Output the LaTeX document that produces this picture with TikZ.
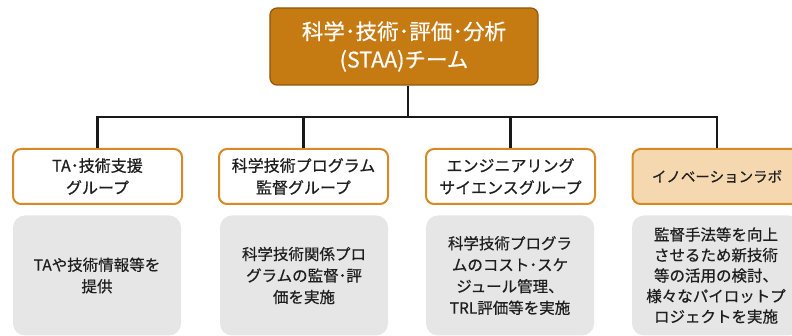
\documentclass[tikz,border=0pt]{standalone}
\usepackage{fontspec}
\newfontfamily\jp[FakeBold=0.6]{Noto Sans CJK JP}
\definecolor{topfill}{HTML}{C67A12}
\definecolor{topdraw}{HTML}{8E560C}
\definecolor{grpdraw}{HTML}{D58A24}
\definecolor{labfill}{HTML}{F5D8B0}
\definecolor{descfill}{HTML}{E6E6E6}
\definecolor{txt}{HTML}{1E1E1E}
\tikzset{
  topbox/.style={draw=topdraw, line width=1.2pt, fill=topfill, rounded corners=7pt,
    minimum width=268pt, minimum height=77pt, align=center, text=white,
    font=\jp\fontsize{21.5}{28}\selectfont, inner sep=0pt},
  grpbox/.style={draw=grpdraw, line width=2pt, fill=white, rounded corners=8pt,
    minimum width=169pt, minimum height=55pt, align=center, text=txt,
    font=\jp\fontsize{16}{22}\selectfont, inner sep=0pt},
  labbox/.style={grpbox, fill=labfill, font=\jp\fontsize{14.5}{22}\selectfont},
  descbox/.style={draw=none, fill=descfill, rounded corners=12pt,
    minimum width=168pt, minimum height=120pt, align=center, text=txt,
    font=\jp\fontsize{15.5}{21.5}\selectfont, inner sep=0pt},
  conn/.style={draw=black!90, line width=2.2pt}
}
\begin{document}
\begin{tikzpicture}[x=1pt,y=-1pt]
\useasboundingbox (0,0) rectangle (792,336);
\clip (0,0) rectangle (792,336);
\node[topbox] (top) at (404,46.5) {科学･技術･評価･分析\\(STAA)チーム};
\node[grpbox] (g1) at (97.5,176.5) {TA･技術支援\\グループ};
\node[grpbox] (g2) at (303.5,176.5) {科学技術プログラム\\監督グループ};
\node[grpbox] (g3) at (510.5,176.5) {エンジニアリング\\サイエンスグループ};
\node[labbox] (g4) at (717,176.5) {イノベーションラボ};
\node[descbox] (d1) at (97,275.5) {TAや技術情報等を\\提供};
\node[descbox] (d2) at (304,275.5) {科学技術関係プロ\\グラムの監督･評\\価を実施};
\node[descbox] (d3) at (510,275.5) {科学技術プログラ\\ムのコスト･スケ\\ジュール管理、\\TRL評価等を実施};
\node[descbox, font=\jp\fontsize{15.5}{20.5}\selectfont] (d4) at (716,275.5) {監督手法等を向上\\させるため新技術\\等の活用の検討、\\様々なパイロットプ\\ロジェクトを実施};
\coordinate (bus) at (408,117);
\draw[conn] ([xshift=4pt]top.south) -- (bus);
\draw[conn] (g1.north) |- (bus);
\draw[conn] (g2.north) |- (bus);
\draw[conn] (g3.north) |- (bus);
\draw[conn] (g4.north) |- (bus);
\end{tikzpicture}
\end{document}
